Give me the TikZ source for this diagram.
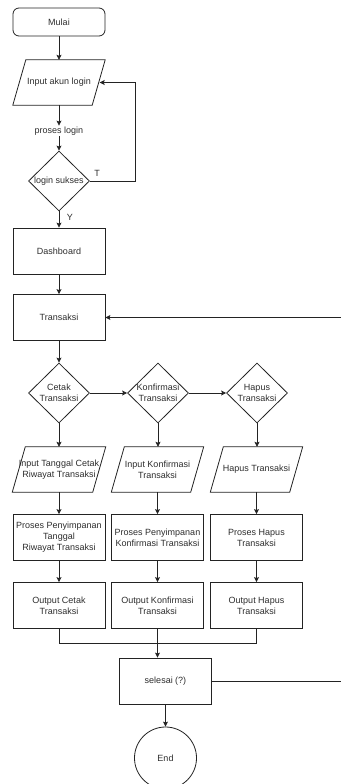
\documentclass[tikz,border=0pt]{standalone}
\usepackage{fontspec}
\setmainfont{Liberation Sans}
\usetikzlibrary{shapes.geometric,arrows.meta}
\definecolor{LineGray}{RGB}{35,35,35}
\definecolor{TextGray}{RGB}{45,45,45}
\tikzset{box/.style={draw=LineGray,line width=0.8pt,minimum width=92pt,minimum height=46pt,inner sep=1pt,align=center,text=TextGray,font=\fontsize{9}{11}\selectfont},
startbox/.style={box,rounded corners=6pt,minimum height=28pt},
io/.style={minimum width=79pt,minimum height=45pt,inner sep=0pt,align=center,text=TextGray,font=\fontsize{9}{11}\selectfont,
  append after command={\pgfextra{\draw[draw=LineGray,line width=0.8pt] ([xshift=-6.5pt]\tikzlastnode.south west) -- ([xshift=6.5pt]\tikzlastnode.north west) -- ([xshift=6.5pt]\tikzlastnode.north east) -- ([xshift=-6.5pt]\tikzlastnode.south east) -- cycle;}}},
decision/.style={draw=LineGray,line width=0.8pt,diamond,minimum width=61pt,minimum height=60pt,inner sep=0pt},
txt/.style={align=center,text=TextGray,font=\fontsize{9}{11}\selectfont,inner sep=0pt},
plain/.style={text=TextGray,font=\fontsize{9}{11}\selectfont,inner sep=1pt},
endcircle/.style={circle,draw=LineGray,line width=0.8pt,minimum size=62pt,text=TextGray,font=\fontsize{9}{11}\selectfont},
arr/.style={draw=LineGray,line width=0.8pt,-{Stealth[length=5pt,width=5pt,inset=1pt]}},
ln/.style={draw=LineGray,line width=0.8pt}}
\begin{document}
\begin{tikzpicture}[x=1pt,y=-1pt]
\useasboundingbox (0,0) rectangle (340,784);
\node[startbox] (mulai) at (59,22) {Mulai};
\node[io] (inp) at (59,82.5) {Input akun login};
\node[plain] (plog) at (59,131) {proses login};
\node[decision,label={[txt]center:login sukses}] (login) at (59,181) {};
\node[plain] (lblT) at (97,173) {T};
\node[plain] (lblY) at (70,217) {Y};
\node[box] (dash) at (59,251) {Dashboard};
\node[box] (trans) at (59,317.5) {Transaksi};
\node[decision,label={[txt]center:{Cetak\\Transaksi}}] (cetak) at (59,393) {};
\node[decision,label={[txt]center:{Konfirmasi\\Transaksi}}] (konf) at (158,393) {};
\node[decision,label={[txt]center:{Hapus\\Transaksi}}] (hapus) at (257,393) {};
\node[io] (cin) at (59,469.5) {Input Tanggal Cetak\\Riwayat Transaksi};
\node[io] (kin) at (157.5,469.5) {Input Konfirmasi\\Transaksi};
\node[io] (hin) at (256.5,469.5) {Hapus Transaksi};
\node[box] (cpro) at (59,537.5) {Proses Penyimpanan\\Tanggal\\Riwayat Transaksi};
\node[box] (kpro) at (157.5,537.5) {Proses Penyimpanan\\Konfirmasi Transaksi};
\node[box] (hpro) at (256.5,537.5) {Proses Hapus\\Transaksi};
\node[box] (cout) at (59,605.5) {Output Cetak\\Transaksi};
\node[box] (kout) at (157.5,605.5) {Output Konfirmasi\\Transaksi};
\node[box] (hout) at (256.5,605.5) {Output Hapus\\Transaksi};
\node[box] (sel) at (165.5,681) {selesai (?)};
\node[endcircle] (end) at (165.5,758) {End};
\coordinate (loopT) at (135,181);
\coordinate (back) at (346,681);
\coordinate (merge) at (59,643);
\draw[arr] (mulai) -- (inp);
\draw[arr] (inp) -- (plog);
\draw[arr] (plog) -- (login);
\draw[arr] (login.east) -- (loopT) |- ([xshift=1pt]inp.east);
\draw[arr] (login) -- (dash);
\draw[arr] (dash) -- (trans);
\draw[arr] (trans) -- (cetak);
\draw[arr] (cetak) -- (konf);
\draw[arr] (konf) -- (hapus);
\draw[arr] (cetak) -- (cetak |- cin.north);
\draw[arr] (konf) -- (konf |- kin.north);
\draw[arr] (hapus) -- (hapus |- hin.north);
\draw[arr] (cin.south) -- (cpro);
\draw[arr] (kin.south) -- (kpro);
\draw[arr] (hin.south) -- (hpro);
\draw[arr] (cpro) -- (cout);
\draw[arr] (kpro) -- (kout);
\draw[arr] (hpro) -- (hout);
\draw[ln] (cout.south) -- (merge) -| (hout.south);
\draw[arr] (kout.south) -- (kout.south |- sel.north);
\draw[arr] (sel.east) -- (back) |- (trans.east);
\draw[arr] (sel) -- (end);
\end{tikzpicture}
\end{document}
